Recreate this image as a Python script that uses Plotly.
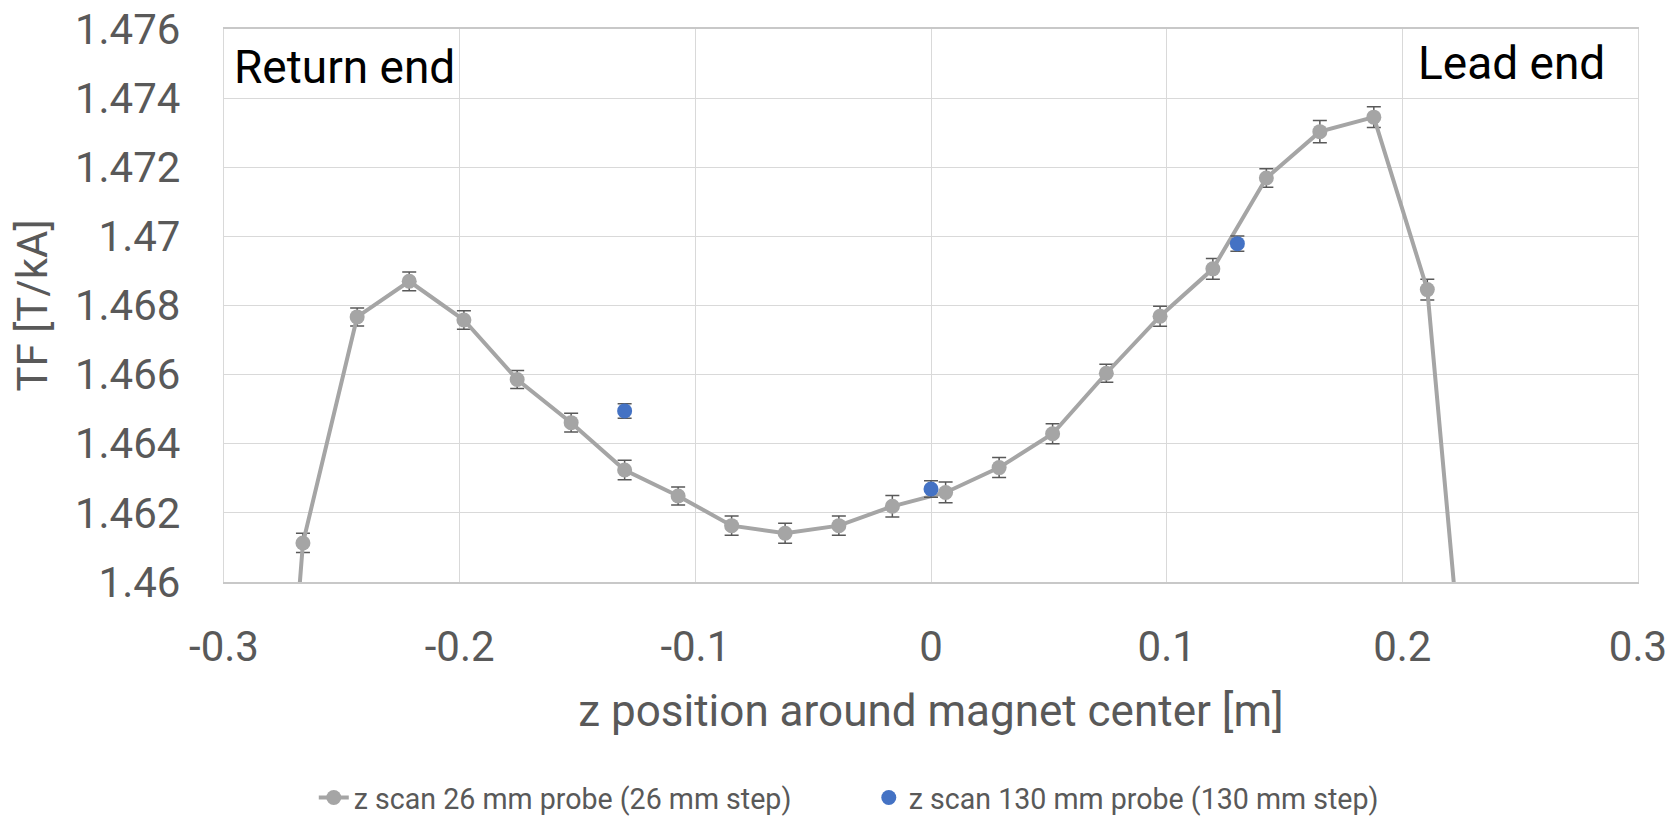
import plotly.graph_objects as go

# Gray series: z scan 26 mm probe (26 mm step)
z26 = [-0.2895, -0.2665, -0.2435, -0.2214, -0.1982, -0.1756, -0.1527, -0.1300,
       -0.1073, -0.0846, -0.0619, -0.0391, -0.0164, 0.0062, 0.0289, 0.0516,
       0.0744, 0.0972, 0.1196, 0.1423, 0.1650, 0.1879, 0.2106, 0.2335]
tf26 = [1.4411, 1.46113, 1.46767, 1.46870, 1.46758, 1.46586, 1.46461, 1.46324,
        1.46249, 1.46163, 1.46141, 1.46163, 1.46219, 1.46259, 1.46331, 1.46429,
        1.46604, 1.46769, 1.46906, 1.47169, 1.47303, 1.47345, 1.46846, 1.45117]
err26 = [0.00028, 0.00028, 0.00026, 0.00027, 0.00027, 0.00026, 0.00027, 0.00028,
         0.00026, 0.00028, 0.00029, 0.00028, 0.00031, 0.00030, 0.00029, 0.00029,
         0.00026, 0.00029, 0.00030, 0.00027, 0.00032, 0.00030, 0.00030, 0.00030]

# Blue series: z scan 130 mm probe (130 mm step)
z130 = [-0.130, 0.000, 0.130]
tf130 = [1.46495, 1.46269, 1.46979]
err130 = [0.00021, 0.00024, 0.00022]

x_ticks = [-0.3, -0.2, -0.1, 0, 0.1, 0.2, 0.3]
x_tick_text = ["-0.3", "-0.2", "-0.1", "0", "0.1", "0.2", "0.3"]
y_ticks = [1.46, 1.462, 1.464, 1.466, 1.468, 1.47, 1.472, 1.474, 1.476]
y_tick_text = ["1.46", "1.462", "1.464", "1.466", "1.468", "1.47", "1.472", "1.474", "1.476"]

FONT = "Roboto"
TXT = "#595959"
GRID = "#D9D9D9"

fig = go.Figure()
fig.add_trace(go.Scatter(
    x=z26, y=tf26, mode="lines+markers",
    name="z scan 26 mm probe (26 mm step)",
    line=dict(color="#A5A5A5", width=4),
    marker=dict(color="#A5A5A5", size=15),
    error_y=dict(type="data", array=err26, visible=True,
                 color="#595959", thickness=1.5, width=7),
))
fig.add_trace(go.Scatter(
    x=z130, y=tf130, mode="markers",
    name="z scan 130 mm probe (130 mm step)",
    marker=dict(color="#4472C4", size=15),
    error_y=dict(type="data", array=err130, visible=True,
                 color="#595959", thickness=1.5, width=7),
))

fig.add_annotation(text="Return end", xref="paper", yref="paper",
                   x=0.006, y=0.931, xanchor="left", yanchor="middle",
                   showarrow=False, font=dict(family=FONT, size=46, color="black"))
fig.add_annotation(text="Lead end", xref="paper", yref="paper",
                   x=0.978, y=0.938, xanchor="right", yanchor="middle",
                   showarrow=False, font=dict(family=FONT, size=46, color="black"))

fig.update_layout(
    width=1667, height=808,
    margin=dict(l=216, r=37, t=21, b=234),
    paper_bgcolor="white", plot_bgcolor="white",
    font=dict(family=FONT, color=TXT),
    showlegend=True,
    legend=dict(orientation="h", xref="paper", yref="container",
                x=0.456, xanchor="center", y=0.0223, yanchor="middle",
                font=dict(family=FONT, size=28.6, color=TXT),
                entrywidth=510, bgcolor="rgba(0,0,0,0)"),
)
fig.update_xaxes(
    range=[-0.3, 0.3], tickvals=x_ticks, ticktext=x_tick_text,
    showgrid=True, gridcolor=GRID, gridwidth=1.3, zeroline=False,
    showline=True, linecolor="#C8C8C8", linewidth=1.5, mirror=True,
    tickfont=dict(family=FONT, size=42, color=TXT), ticklabelstandoff=27,
    automargin=False, ticklabeloverflow="allow",
    title=dict(text="z position around magnet center [m]",
               font=dict(family=FONT, size=44, color=TXT), standoff=25),
)
fig.update_yaxes(
    range=[1.46, 1.476], tickvals=y_ticks, ticktext=y_tick_text,
    showgrid=True, gridcolor=GRID, gridwidth=1.3, zeroline=False,
    showline=True, linecolor=GRID, linewidth=1.3, mirror=True,
    tickfont=dict(family=FONT, size=42, color=TXT), ticklabelstandoff=34,
    automargin=False, ticklabeloverflow="allow",
    title=dict(text="TF [T/kA]", font=dict(family=FONT, size=42, color=TXT),
               standoff=17),
)

fig.write_html("out.html")
